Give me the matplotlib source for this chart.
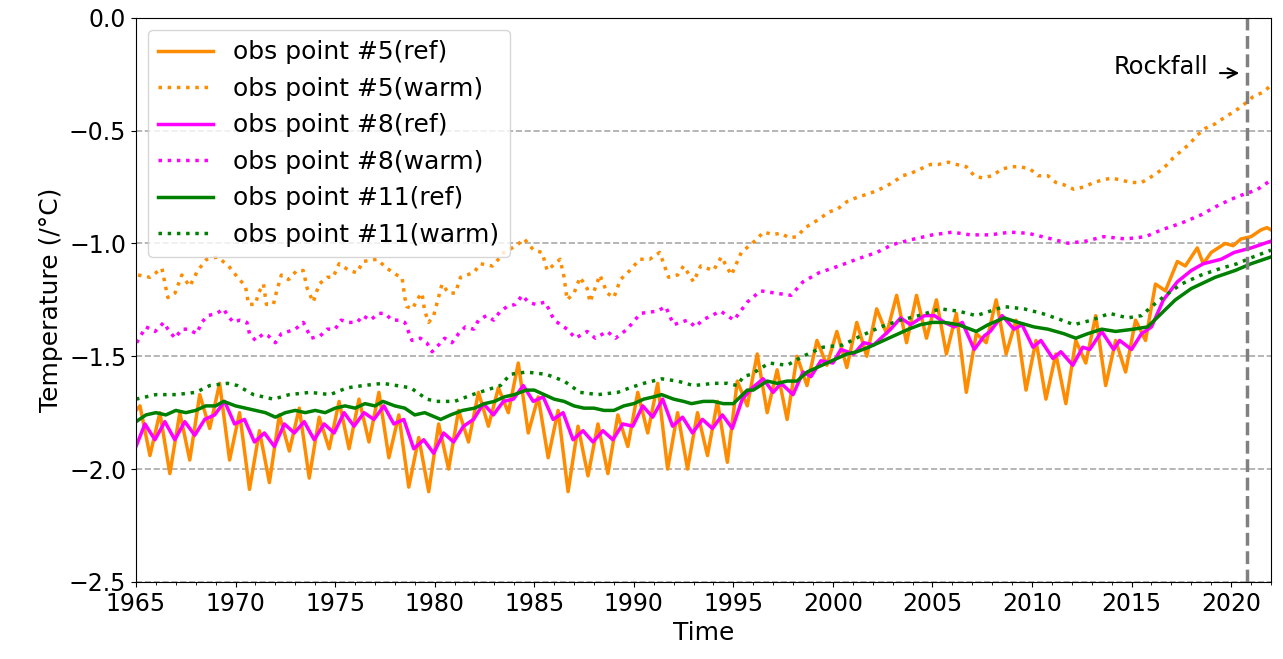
import matplotlib
matplotlib.use("Agg")
import matplotlib.pyplot as plt
from matplotlib.ticker import MultipleLocator
import numpy as np

# obs point #5 (ref): yearly peak / trough values 1965-2015, then the final rise
p5_peak = [-1.72, -1.75, -1.75, -1.67, -1.62, -1.75, -1.83, -1.76, -1.73, -1.77,
           -1.70, -1.69, -1.66, -1.76, -1.86, -1.80, -1.74, -1.66, -1.64, -1.53,
           -1.68, -1.74, -1.81, -1.80, -1.76, -1.66, -1.62, -1.75, -1.75, -1.70,
           -1.61, -1.49, -1.56, -1.50, -1.43, -1.39, -1.35, -1.29, -1.23, -1.23,
           -1.25, -1.31, -1.40, -1.25, -1.34, -1.43, -1.49, -1.43, -1.32, -1.43,
           -1.34]
p5_trough = [-1.94, -2.02, -1.96, -1.82, -1.96, -2.09, -2.06, -1.92, -2.04, -1.91,
             -1.91, -1.88, -1.95, -2.08, -2.10, -2.00, -1.88, -1.81, -1.75, -1.84,
             -1.95, -2.10, -2.03, -2.02, -1.90, -1.84, -2.00, -2.00, -1.94, -1.97,
             -1.72, -1.75, -1.78, -1.63, -1.54, -1.55, -1.50, -1.40, -1.44, -1.42,
             -1.49, -1.66, -1.44, -1.49, -1.65, -1.69, -1.71, -1.53, -1.63, -1.57,
             -1.43]
p5_late_t = [2016.2, 2016.7, 2017.3, 2017.7, 2018.3, 2018.6, 2019.0, 2019.7, 2020.1,
             2020.5, 2021.0, 2021.5, 2021.8, 2022.0]
p5_late_v = [-1.18, -1.21, -1.08, -1.10, -1.02, -1.09, -1.04, -1.00, -1.01,
             -0.98, -0.97, -0.94, -0.93, -0.94]

# obs point #5 (warm)
w5_t = [1965.1, 1965.7, 1966.3, 1966.6, 1966.96, 1967.3, 1967.7, 1968.1, 1968.55, 1969.1,
        1969.65, 1970.1, 1970.5, 1970.65, 1971.0, 1971.15, 1971.4, 1971.55, 1971.9, 1972.07,
        1972.3, 1972.66, 1973.08, 1973.4, 1973.6, 1973.9, 1974.2, 1974.6, 1974.9, 1975.2,
        1975.7, 1976.1, 1976.4, 1977.1, 1977.6, 1978.1, 1978.36, 1978.5, 1978.6, 1978.9,
        1979.1, 1979.36, 1979.5, 1979.7, 1979.95, 1980.1, 1980.37, 1980.7, 1981.04, 1981.3,
        1981.6, 1981.96, 1982.3, 1982.9, 1983.2, 1983.47, 1984.1, 1984.5, 1984.97, 1985.4,
        1985.65, 1986.3, 1986.5, 1986.65, 1987.0, 1987.3, 1987.66, 1987.8, 1988.3, 1988.66,
        1989.0, 1989.33, 1989.8, 1990.3, 1990.8, 1991.3, 1991.75, 1992.2, 1992.5, 1993.0,
        1993.36, 1994.0, 1994.4, 1994.9, 1995.4, 1995.8, 1996.2, 1996.5, 1997.0, 1997.4,
        1997.8, 1998.2, 1998.6, 1999.0, 1999.5, 1999.8, 2000.2, 2000.7, 2001.1, 2001.6,
        2002.1, 2002.6, 2003.0, 2003.5, 2003.9, 2004.4, 2004.9, 2005.3, 2005.8, 2006.2,
        2006.7, 2007.1, 2007.5, 2008.0, 2008.5, 2009.0, 2009.4, 2009.9, 2010.3, 2010.8,
        2011.2, 2011.6, 2012.1, 2012.6, 2013.1, 2013.5, 2014.0, 2014.5, 2015.0, 2015.5,
        2015.9, 2016.4, 2016.8, 2017.1, 2017.5, 2017.9, 2018.3, 2018.7, 2019.2, 2019.7,
        2020.25, 2020.7, 2021.1, 2021.6, 2022.0]
w5_v = [-1.14, -1.15, -1.11, -1.24, -1.22, -1.14, -1.19, -1.12, -1.07, -1.06,
        -1.10, -1.15, -1.19, -1.27, -1.27, -1.22, -1.18, -1.27, -1.27, -1.21,
        -1.14, -1.16, -1.12, -1.12, -1.20, -1.26, -1.18, -1.15, -1.15, -1.09,
        -1.12, -1.13, -1.08, -1.07, -1.11, -1.14, -1.15, -1.24, -1.28, -1.29,
        -1.25, -1.22, -1.30, -1.35, -1.32, -1.27, -1.18, -1.22, -1.22, -1.15,
        -1.14, -1.13, -1.09, -1.10, -1.07, -1.04, -1.01, -0.98, -1.03, -1.04,
        -1.12, -1.07, -1.15, -1.25, -1.22, -1.15, -1.20, -1.26, -1.14, -1.22,
        -1.24, -1.16, -1.12, -1.07, -1.07, -1.04, -1.15, -1.14, -1.10, -1.17,
        -1.10, -1.12, -1.06, -1.14, -1.04, -1.01, -0.98, -0.95, -0.96, -0.955,
        -0.975, -0.97, -0.93, -0.91, -0.88, -0.86, -0.85, -0.815, -0.80, -0.785,
        -0.77, -0.75, -0.73, -0.70, -0.69, -0.67, -0.65, -0.65, -0.64, -0.65,
        -0.66, -0.70, -0.71, -0.70, -0.67, -0.66, -0.66, -0.67, -0.70, -0.70,
        -0.73, -0.74, -0.76, -0.75, -0.73, -0.72, -0.71, -0.72, -0.73, -0.73,
        -0.71, -0.68, -0.65, -0.62, -0.59, -0.56, -0.52, -0.49, -0.47, -0.44,
        -0.41, -0.38, -0.35, -0.33, -0.30]

# obs point #8 (ref): yearly peak / trough values 1965-1995, then explicit points
p8_peak = [-1.80, -1.79, -1.79, -1.78, -1.70, -1.78, -1.84, -1.80, -1.79, -1.80,
           -1.75, -1.75, -1.72, -1.78, -1.87, -1.84, -1.81, -1.71, -1.70, -1.63,
           -1.68, -1.75, -1.83, -1.83, -1.80, -1.72, -1.69, -1.77, -1.78, -1.76,
           -1.69]
p8_trough = [-1.87, -1.87, -1.85, -1.76, -1.80, -1.88, -1.90, -1.84, -1.87, -1.84,
             -1.81, -1.78, -1.80, -1.91, -1.93, -1.88, -1.78, -1.76, -1.69, -1.70,
             -1.78, -1.87, -1.88, -1.87, -1.81, -1.77, -1.81, -1.84, -1.82, -1.82,
             -1.64]
p8_late_t = [1996.5, 1997.0, 1997.4, 1998.0, 1998.5, 1998.9, 1999.4, 2000.0, 2000.4, 2001.05,
             2001.55, 2002.05, 2002.9, 2003.4, 2003.9, 2004.6, 2005.1, 2005.6, 2006.1, 2006.5,
             2007.1, 2007.6, 2007.9, 2008.5, 2009.1, 2009.5, 2010.05, 2010.45, 2011.05, 2011.45,
             2012.05, 2012.55, 2012.9, 2013.5, 2014.1, 2014.4, 2015.0, 2015.5, 2016.0, 2016.6,
             2017.3, 2018.0, 2018.6, 2019.5, 2020.15, 2021.0, 2022.0]
p8_late_v = [-1.60, -1.66, -1.62, -1.67, -1.57, -1.59, -1.52, -1.53, -1.47, -1.49,
             -1.44, -1.45, -1.38, -1.33, -1.36, -1.32, -1.32, -1.35, -1.37, -1.35,
             -1.47, -1.41, -1.39, -1.32, -1.38, -1.36, -1.46, -1.43, -1.51, -1.48,
             -1.54, -1.46, -1.47, -1.39, -1.47, -1.43, -1.47, -1.40, -1.37, -1.25,
             -1.17, -1.12, -1.09, -1.07, -1.04, -1.02, -0.99]

# obs point #8 (warm)
w8_t = [1965.03, 1965.5, 1965.96, 1966.4, 1966.6, 1966.96, 1967.3, 1967.6, 1968.05, 1968.3,
        1968.6, 1969.06, 1969.4, 1969.6, 1969.9, 1970.2, 1970.57, 1970.7, 1971.0, 1971.4,
        1971.65, 1972.0, 1972.3, 1972.66, 1973.0, 1973.4, 1973.8, 1974.25, 1974.6, 1975.0,
        1975.3, 1975.7, 1976.1, 1976.4, 1976.76, 1977.2, 1977.5, 1977.86, 1978.2, 1978.5,
        1978.86, 1979.28, 1979.6, 1979.87, 1980.2, 1980.5, 1980.87, 1981.2, 1981.54, 1981.96,
        1982.2, 1982.6, 1982.96, 1983.3, 1983.64, 1984.05, 1984.4, 1984.7, 1985.06, 1985.56,
        1986.0, 1986.65, 1987.07, 1987.66, 1988.07, 1988.66, 1989.08, 1989.67, 1990.34, 1991.18,
        1991.6, 1992.0, 1992.7, 1993.1, 1993.44, 1994.36, 1995.03, 1995.7, 1996.37, 1997.1,
        1997.9, 1998.5, 1999.3, 2000.3, 2001.2, 2002.2, 2003.0, 2003.9, 2005.0, 2006.0,
        2006.9, 2007.9, 2008.9, 2009.8, 2010.85, 2011.8, 2012.7, 2013.6, 2014.7, 2015.7,
        2016.5, 2017.5, 2018.5, 2019.4, 2020.3, 2021.3, 2022.0]
w8_v = [-1.44, -1.37, -1.39, -1.35, -1.38, -1.42, -1.38, -1.38, -1.40, -1.35,
        -1.32, -1.31, -1.29, -1.32, -1.35, -1.34, -1.35, -1.40, -1.43, -1.40,
        -1.41, -1.44, -1.40, -1.39, -1.38, -1.35, -1.42, -1.41, -1.38, -1.38,
        -1.34, -1.35, -1.35, -1.32, -1.34, -1.31, -1.31, -1.34, -1.34, -1.35,
        -1.43, -1.42, -1.44, -1.48, -1.45, -1.42, -1.44, -1.40, -1.37, -1.38,
        -1.34, -1.32, -1.34, -1.30, -1.28, -1.27, -1.23, -1.26, -1.27, -1.26,
        -1.34, -1.38, -1.42, -1.39, -1.42, -1.39, -1.42, -1.38, -1.31, -1.30,
        -1.28, -1.36, -1.34, -1.37, -1.34, -1.30, -1.34, -1.26, -1.21, -1.22,
        -1.23, -1.17, -1.13, -1.10, -1.07, -1.04, -1.005, -0.984, -0.962, -0.95,
        -0.962, -0.962, -0.95, -0.955, -0.977, -0.999, -0.99, -0.97, -0.98, -0.97,
        -0.94, -0.91, -0.873, -0.829, -0.793, -0.762, -0.72]

# obs point #11 (ref)
p11_t = [1965.0, 1965.5, 1966.0, 1966.5, 1967.0, 1967.5, 1968.0, 1968.5, 1969.0, 1969.4,
         1970.0, 1970.5, 1971.0, 1971.5, 1972.0, 1972.5, 1973.0, 1973.5, 1974.0, 1974.5,
         1975.0, 1975.5, 1976.0, 1976.5, 1977.0, 1977.4, 1978.0, 1978.5, 1979.0, 1979.5,
         1980.3, 1980.8, 1981.4, 1982.0, 1982.5, 1983.0, 1983.5, 1984.0, 1984.6, 1985.0,
         1985.5, 1986.0, 1986.5, 1987.0, 1987.5, 1988.0, 1988.5, 1989.0, 1989.5, 1990.0,
         1990.5, 1991.0, 1991.4, 1992.0, 1992.5, 1992.9, 1993.5, 1994.0, 1994.5, 1995.0,
         1995.7, 1996.0, 1996.7, 1997.2, 1997.7, 1998.2, 1998.7, 1999.2, 1999.7, 2000.2,
         2000.7, 2001.2, 2001.8, 2002.3, 2002.8, 2003.3, 2003.8, 2004.4, 2005.0, 2005.6,
         2006.3, 2007.2, 2007.8, 2008.6, 2009.3, 2010.1, 2010.8, 2011.6, 2012.2, 2012.8,
         2013.5, 2014.2, 2015.1, 2015.8, 2016.5, 2017.2, 2018.0, 2019.2, 2020.2, 2021.0,
         2022.0]
p11_v = [-1.79, -1.76, -1.75, -1.76, -1.74, -1.75, -1.74, -1.72, -1.72, -1.70,
         -1.72, -1.73, -1.74, -1.75, -1.77, -1.75, -1.74, -1.75, -1.74, -1.75,
         -1.73, -1.72, -1.73, -1.71, -1.72, -1.70, -1.72, -1.73, -1.76, -1.75,
         -1.78, -1.76, -1.74, -1.73, -1.71, -1.70, -1.68, -1.67, -1.65, -1.65,
         -1.67, -1.69, -1.70, -1.72, -1.73, -1.73, -1.74, -1.74, -1.72, -1.71,
         -1.69, -1.68, -1.67, -1.69, -1.70, -1.71, -1.70, -1.70, -1.71, -1.71,
         -1.65, -1.65, -1.61, -1.62, -1.61, -1.61, -1.57, -1.55, -1.53, -1.51,
         -1.49, -1.48, -1.46, -1.44, -1.42, -1.40, -1.38, -1.36, -1.35, -1.35,
         -1.36, -1.39, -1.36, -1.33, -1.35, -1.37, -1.38, -1.40, -1.42, -1.40,
         -1.38, -1.39, -1.38, -1.37, -1.31, -1.25, -1.20, -1.15, -1.12, -1.09,
         -1.06]

# obs point #11 (warm)
w11_t = [1965.0, 1966.0, 1967.0, 1968.0, 1968.7, 1969.6, 1970.1, 1970.9, 1971.9, 1972.7,
         1973.75, 1974.75, 1975.6, 1976.4, 1977.4, 1978.8, 1979.6, 1980.1, 1981.0, 1981.9,
         1983.3, 1983.8, 1984.6, 1985.6, 1986.5, 1987.3, 1988.2, 1989.2, 1989.8, 1990.5,
         1991.4, 1992.2, 1993.0, 1994.0, 1994.7, 1995.2, 1995.5, 1995.9, 1996.8, 1997.7,
         1998.5, 1999.5, 2000.5, 2001.4, 2002.4, 2003.4, 2004.3, 2005.4, 2006.3, 2007.2,
         2008.6, 2009.6, 2010.5, 2011.5, 2012.1, 2013.0, 2013.9, 2014.8, 2015.5, 2016.0,
         2016.7, 2017.5, 2018.5, 2019.5, 2020.3, 2021.1, 2022.0]
w11_v = [-1.69, -1.67, -1.67, -1.66, -1.63, -1.62, -1.63, -1.67, -1.69, -1.67,
         -1.66, -1.67, -1.64, -1.63, -1.62, -1.64, -1.69, -1.70, -1.70, -1.67,
         -1.63, -1.58, -1.57, -1.58, -1.61, -1.66, -1.67, -1.66, -1.64, -1.62,
         -1.60, -1.61, -1.63, -1.62, -1.62, -1.63, -1.59, -1.58, -1.53, -1.54,
         -1.50, -1.46, -1.45, -1.41, -1.37, -1.34, -1.32, -1.29, -1.30, -1.32,
         -1.28, -1.29, -1.31, -1.34, -1.36, -1.34, -1.31, -1.33, -1.32, -1.28,
         -1.23, -1.18, -1.14, -1.11, -1.09, -1.06, -1.03]

rockfall_year = 2020.8


def zigzag(first_t, peak_offset, trough_offset, peaks, troughs):
    # interleave the yearly peak and trough values in time order
    years = np.arange(len(peaks)) + first_t
    t = np.column_stack([years + peak_offset, years + trough_offset]).ravel()
    v = np.column_stack([peaks, troughs]).ravel()
    return t, v


t5, v5 = zigzag(1965, 0.2, 0.7, p5_peak, p5_trough)
t5 = np.concatenate([[1965.0], t5, p5_late_t])
v5 = np.concatenate([[-1.74], v5, p5_late_v])

t8, v8 = zigzag(1965, 0.45, 0.95, p8_peak, p8_trough)
t8 = np.concatenate([[1965.0], t8, p8_late_t])
v8 = np.concatenate([[-1.90], v8, p8_late_v])

plt.rcParams['font.size'] = 17
fig, ax = plt.subplots(figsize=(12.83, 6.59), dpi=100)
fig.subplots_adjust(left=0.106, right=0.9906, top=0.973, bottom=0.117)

ax.plot(t5, v5, color='darkorange', lw=2.5, label='obs point #5(ref)')
ax.plot(w5_t, w5_v, color='darkorange', lw=2.5, ls=':', label='obs point #5(warm)')
ax.plot(t8, v8, color='magenta', lw=2.5, label='obs point #8(ref)')
ax.plot(w8_t, w8_v, color='magenta', lw=2.5, ls=':', label='obs point #8(warm)')
ax.plot(p11_t, p11_v, color='green', lw=2.5, label='obs point #11(ref)')
ax.plot(w11_t, w11_v, color='green', lw=2.5, ls=':', label='obs point #11(warm)')

# rockfall marker
ax.axvline(rockfall_year, color='gray', ls='--', lw=2.5)
ax.annotate('', xy=(rockfall_year - 0.25, -0.245), xytext=(rockfall_year - 1.5, -0.245),
            arrowprops=dict(arrowstyle='->', lw=1.5, color='black'))
ax.text(rockfall_year - 1.95, -0.22, 'Rockfall', ha='right', va='center', fontsize=17.5)

ax.set_xlim(1965, 2022)
ax.set_ylim(-2.5, 0.0)
ax.set_xticks(np.arange(1965, 2021, 5))
ax.xaxis.set_minor_locator(MultipleLocator(1))
ax.set_yticks(np.arange(-2.5, 0.01, 0.5))
ax.grid(axis='y', ls='--', color='darkgray', lw=1.2)
ax.set_xlabel('Time', fontsize=18)
ax.set_ylabel('Temperature (/°C)', fontsize=18)
ax.legend(loc='upper left', fontsize=18, handlelength=2.2)

fig.savefig('out.png', dpi=100)
